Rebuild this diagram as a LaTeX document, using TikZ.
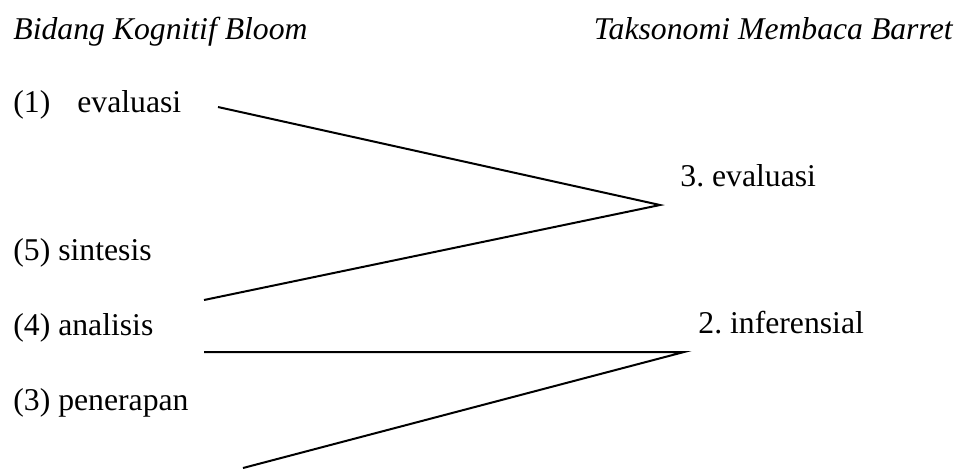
\documentclass[tikz,border=0pt]{standalone}
\usepackage{fontspec}
\setmainfont{Liberation Serif}
\frenchspacing
\begin{document}
\begin{tikzpicture}[x=0.5pt,y=-0.5pt,
  lbl/.style={anchor=base west,inner sep=0pt,font=\fontsize{15.85}{19}\selectfont},
  head/.style={lbl,font=\fontsize{15.85}{19}\selectfont\itshape},
  link/.style={line width=1pt}]
\useasboundingbox (0,0) rectangle (958,468);
% column headings
\node[head] (bloom) at (13,39) {Bidang Kognitif Bloom};
\node[head,anchor=base east] (barret) at (953,39) {Taksonomi Membaca Barret};
% Bloom levels
\node[lbl] (b1) at (13,112) {(1)\hspace{13.5pt}evaluasi};
\node[lbl] (b5) at (13,260) {(5) sintesis};
\node[lbl] (b4) at (13,335) {(4) analisis};
\node[lbl] (b3) at (13,410) {(3) penerapan};
% Barret levels
\node[lbl] (r3) at (680,186) {3. evaluasi};
\node[lbl] (r2) at (698,333) {2. inferensial};
% connector end points
\coordinate (s1) at (218,107);
\coordinate (s5) at (204,300);
\coordinate (s4) at (204,352);
\coordinate (s3) at (243,468);
\coordinate (t3) at (660,205);
\coordinate (t2) at (684,352);
% connectors
\draw[link] (s1) -- (t3) -- (s5);
\draw[link] (s4) -- (t2) -- (s3);
\end{tikzpicture}
\end{document}
